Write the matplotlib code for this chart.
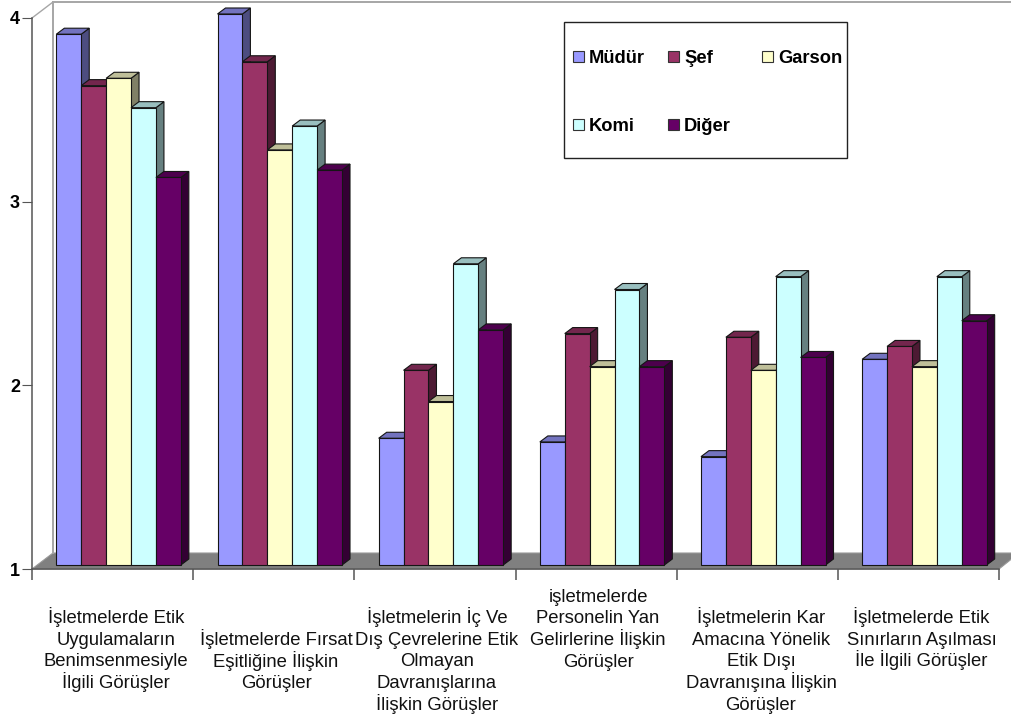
import matplotlib
matplotlib.use("Agg")
import matplotlib.pyplot as plt
from matplotlib.patches import Polygon, Rectangle
from matplotlib.transforms import Affine2D

plt.rcParams["font.family"] = ["Liberation Sans", "DejaVu Sans"]

series = ["Müdür", "Şef", "Garson", "Komi", "Diğer"]
colors = ["#9999FF", "#993366", "#FFFFCC", "#CCFFFF", "#660066"]

mudur = [3.89, 4.00, 1.69, 1.67, 1.59, 2.12]
sef = [3.61, 3.74, 2.06, 2.26, 2.24, 2.19]
garson = [3.65, 3.26, 1.89, 2.08, 2.06, 2.08]
komi = [3.49, 3.39, 2.64, 2.50, 2.57, 2.57]
diger = [3.11, 3.15, 2.28, 2.08, 2.13, 2.33]
values = [mudur, sef, garson, komi, diger]

categories = [
    "İşletmelerde Etik\nUygulamaların\nBenimsenmesiyle\nİlgili Görüşler",
    "İşletmelerde Fırsat\nEşitliğine İlişkin\nGörüşler",
    "İşletmelerin İç Ve\nDış Çevrelerine Etik\nOlmayan\nDavranışlarına\nİlişkin Görüşler",
    "işletmelerde\nPersonelin Yan\nGelirlerine İlişkin\nGörüşler",
    "İşletmelerin Kar\nAmacına Yönelik\nEtik Dışı\nDavranışına İlişkin\nGörüşler",
    "İşletmelerde Etik\nSınırların Aşılması\nİle İlgili Görüşler",
]
label_x = [116, 276, 437, 598, 761, 921.5]
label_baseline = [623, 645, 623, 601.5, 623, 623]
y_ticks = [1, 2, 3, 4]

W, H = 1011, 720
fig = plt.figure(figsize=(W / 100, H / 100), dpi=100)
ax = fig.add_axes([32 / W, (H - 569) / H, (999 - 32) / W, (569 - 18) / H])
ax.set_xlim(0, 6)
ax.set_ylim(1, 4)
ax.patch.set_visible(False)

# pixel coordinates, origin top left
px = Affine2D().scale(1, -1).translate(0, H)


def shade(color, k):
    c = matplotlib.colors.to_rgb(color)
    return tuple(v * k for v in c)


def add_poly(points, **kw):
    ax.add_patch(Polygon(points, closed=True, transform=px, clip_on=False, **kw))


# floor and back wall
add_poly([(32, 569), (53, 553), (1019, 553), (999, 569)],
         facecolor="#808080", edgecolor="#999999", linewidth=0.8, zorder=1)
wall = dict(color="#A6A6A6", linewidth=1.4, transform=px, clip_on=False, zorder=1)
ax.plot([53, 53], [553, 2], **wall)
ax.plot([53, 1011], [2, 2], **wall)
ax.plot([32, 53], [18, 2], color="#A6A6A6", linewidth=1, transform=px,
        clip_on=False, zorder=1)

# bars sit 4 px behind the front of the floor, with a small 3D depth
bar_w = 0.1545
start = 0.151
dx, dy = 8, 6
lift = 4
edge = "#151515"
shift = ax.transData + Affine2D().translate(0, lift)

for j, vals in enumerate(values):
    xs = [i + start + j * bar_w for i in range(len(vals))]
    z = 2 + j
    ax.bar(xs, [v - 1 for v in vals], width=bar_w, bottom=1, align="edge",
           color=colors[j], edgecolor=edge, linewidth=0.8, transform=shift,
           clip_on=False, zorder=z + 0.2)
    for x, v in zip(xs, vals):
        (x0, y1), (x1, y0) = shift.transform([(x, v), (x + bar_w, 1)])
        side = [(x1, y0), (x1 + dx, y0 + dy), (x1 + dx, y1 + dy), (x1, y1)]
        top = [(x0, y1), (x0 + dx, y1 + dy), (x1 + dx, y1 + dy), (x1, y1)]
        for pts, k in ((side, 0.5), (top, 0.75)):
            ax.add_patch(Polygon(pts, closed=True, transform=None, clip_on=False,
                                 facecolor=shade(colors[j], k), edgecolor=edge,
                                 linewidth=0.8, zorder=z))

# axes
for name in ("top", "right"):
    ax.spines[name].set_visible(False)
for name in ("left", "bottom"):
    ax.spines[name].set_color("#555555")
    ax.spines[name].set_linewidth(1.1)
    ax.spines[name].set_zorder(10)
ax.set_yticks(y_ticks)
ax.set_yticklabels([str(t) for t in y_ticks], fontsize=13, fontweight="bold")
ax.tick_params(axis="y", length=7.2, width=0.8, color="#555555", pad=1.5)
ax.set_xticks(range(7))
ax.set_xticklabels([])
ax.tick_params(axis="x", length=7.8, width=1.1, color="#555555")

# one text per line so the dotted capitals don't disturb the line pitch
line_pitch = 21.75
for text, x, y in zip(categories, label_x, label_baseline):
    for n, line in enumerate(text.split("\n")):
        ax.text(x, y + n * line_pitch, line, transform=px, ha="center", va="baseline",
                fontsize=13.3, color="#111111", clip_on=False)

# legend box with two rows
ax.add_patch(Rectangle((563.5, 21.5), 283.5, 136, transform=px, clip_on=False,
                       facecolor="white", edgecolor="#222222", linewidth=1, zorder=20))
legend_x = [573, 668, 762, 573, 668]
legend_y = [51, 51, 51, 119, 119]
for name, color, x, y in zip(series, colors, legend_x, legend_y):
    ax.add_patch(Rectangle((x, y), 11, 10.5, transform=px, clip_on=False,
                           facecolor=color, edgecolor="#333333", linewidth=0.8, zorder=21))
    ax.text(x + 16, y + 12, name, transform=px, ha="left", va="baseline",
            fontsize=13.2, fontweight="bold", clip_on=False, zorder=21)

fig.savefig("out.png", dpi=100)
